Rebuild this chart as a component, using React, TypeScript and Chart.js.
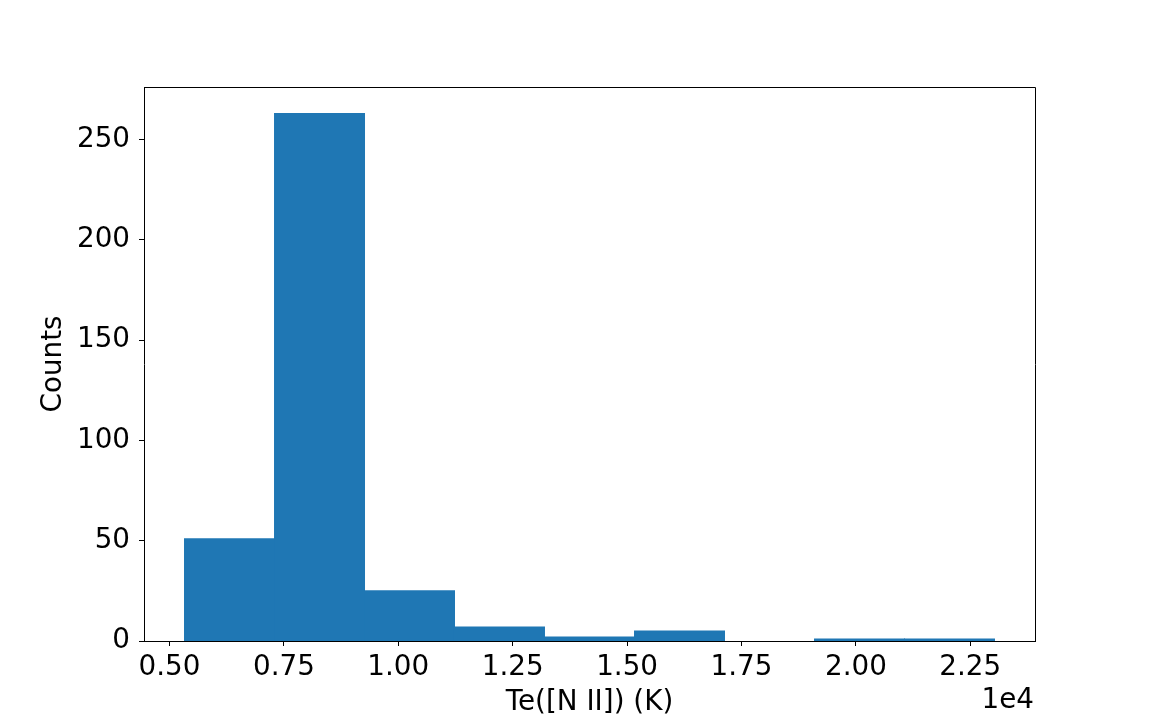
import React, { useEffect, useRef } from "react";
import { Chart, registerables } from "chart.js";

Chart.register(...registerables);

const binEdges = [5328, 7295, 9262, 11228, 13195, 15162, 17129, 19096, 21062, 23029];
const counts = [51, 263, 25, 7, 2, 5, 0, 1, 1];
const xTicks = [5000, 7500, 10000, 12500, 15000, 17500, 20000, 22500];
const yTicks = [0, 50, 100, 150, 200, 250];
const xLabel = "Te([N II]) (K)";
const yLabel = "Counts";
const offsetText = "1e4";

const FONT = "'DejaVu Sans', sans-serif";
const FS = 27.8;

export default function App() {
  const ref = useRef<HTMLCanvasElement | null>(null);
  useEffect(() => {
    if (!ref.current) return;
    const range = binEdges[binEdges.length - 1] - binEdges[0];
    const xMin = binEdges[0] - 0.05 * range;
    const xMax = binEdges[binEdges.length - 1] + 0.05 * range;
    const yMax = Math.max(...counts) * 1.05;
    const data = counts.map((c, i) => ({
      x: (binEdges[i] + binEdges[i + 1]) / 2,
      y: c === 0 ? null : c,
    }));

    const framePlugin = {
      id: "frame",
      afterDraw(chart: any) {
        const { ctx, chartArea } = chart;
        ctx.save();
        ctx.strokeStyle = "#000";
        ctx.lineWidth = 1;
        ctx.beginPath();
        ctx.moveTo(Math.round(chartArea.left) + 0.5, Math.round(chartArea.top) + 0.5);
        ctx.lineTo(Math.round(chartArea.right) + 0.5, Math.round(chartArea.top) + 0.5);
        ctx.lineTo(Math.round(chartArea.right) + 0.5, Math.round(chartArea.bottom) + 0.5);
        ctx.stroke();
        ctx.fillStyle = "#000";
        ctx.font = `${FS}px ${FONT}`;
        ctx.textAlign = "right";
        ctx.textBaseline = "alphabetic";
        ctx.fillText(offsetText, chartArea.right - 1, 708);
        ctx.restore();
      },
    };

    const chart = new Chart(ref.current, {
      type: "bar",
      data: {
        datasets: [
          {
            data: data as any,
            backgroundColor: "#1f77b4",
            borderWidth: 0,
            inflateAmount: 0.5,
            barPercentage: 1,
            categoryPercentage: 1,
          },
        ],
      },
      options: {
        animation: false,
        responsive: false,
        events: [],
        layout: { padding: { left: 0, top: 87, right: 115, bottom: 0 } },
        plugins: { legend: { display: false }, tooltip: { enabled: false } },
        scales: {
          x: {
            type: "linear",
            min: xMin,
            max: xMax,
            offset: false,
            afterBuildTicks: (s: any) => {
              s.ticks = xTicks.map((v) => ({ value: v }));
            },
            afterFit: (s: any) => {
              s.height = 79;
            },
            grid: { drawOnChartArea: false, tickLength: 5, color: "#000", offset: false },
            border: { display: true, color: "#000", width: 1 },
            ticks: {
              color: "#000",
              font: { family: FONT, size: FS },
              padding: 5,
              maxRotation: 0,
              autoSkip: false,
              callback: (v: any) => (Number(v) / 1e4).toFixed(2),
            },
            title: {
              display: true,
              text: xLabel,
              color: "#000",
              font: { family: FONT, size: FS },
              padding: { top: 0, bottom: 1 },
            },
          },
          y: {
            min: 0,
            max: yMax,
            afterBuildTicks: (s: any) => {
              s.ticks = yTicks.map((v) => ({ value: v }));
            },
            afterFit: (s: any) => {
              s.width = 144;
            },
            grid: { drawOnChartArea: false, tickLength: 5, color: "#000", offset: false },
            border: { display: true, color: "#000", width: 1 },
            ticks: {
              color: "#000",
              font: { family: FONT, size: FS },
              padding: 9,
              autoSkip: false,
              callback: (v: any) => String(v),
            },
            title: {
              display: true,
              text: yLabel,
              color: "#000",
              font: { family: FONT, size: FS },
              padding: { top: 36.7, bottom: 0 },
            },
          },
        },
      },
      plugins: [framePlugin],
    });
    return () => chart.destroy();
  }, []);

  return (
    <div style={{ position: "fixed", left: 0, top: 0, width: 1150, height: 720, background: "#fff" }}>
      <canvas ref={ref} width={1150} height={720} style={{ width: 1150, height: 720, display: "block" }} />
    </div>
  );
}
